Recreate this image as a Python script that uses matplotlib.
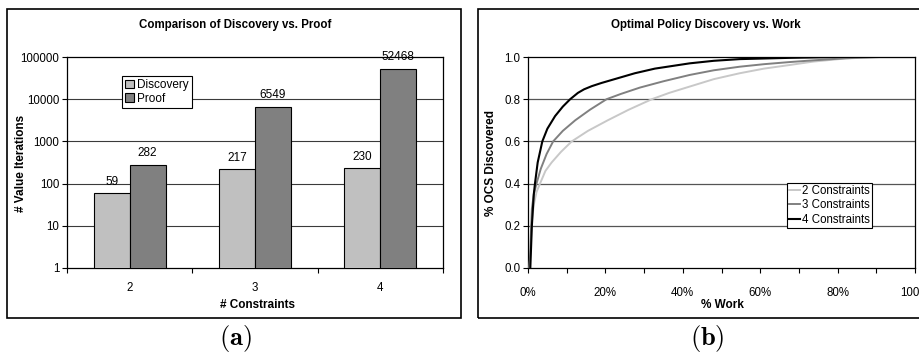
import matplotlib
matplotlib.use('Agg')
import matplotlib.pyplot as plt
from matplotlib.patches import Rectangle

plt.rcParams['font.family'] = ['Liberation Sans', 'DejaVu Sans']
plt.rcParams['font.size'] = 8.3
plt.rcParams['mathtext.fontset'] = 'cm'   # only used for the (a)/(b) captions

# panel (a): bars
constraints = ['2', '3', '4']
discovery = [59, 217, 230]
proof = [282, 6549, 52468]

# panel (b): curves (% work, fraction discovered)
work_2 = [0.4, 1.0, 1.5, 2.2, 3.1, 4.5, 6.1, 8.5, 11.3, 15.5, 20.6, 26, 32, 36.5, 41.8, 48, 54.7, 61, 67.6, 73.6, 82, 90.8, 100]
ocs_2 = [0, 0.22, 0.30, 0.36, 0.40, 0.46, 0.50, 0.55, 0.60, 0.65, 0.70, 0.75, 0.80, 0.83, 0.86, 0.895, 0.923, 0.945, 0.962, 0.978, 0.993, 1.0, 1.0]
work_3 = [0.4, 1.0, 1.5, 2.2, 3.3, 4.8, 6.5, 9, 12.2, 16, 20.3, 24, 28.9, 35, 41.8, 48, 54.7, 61, 67.6, 73.6, 82, 90.8, 100]
ocs_3 = [0, 0.28, 0.35, 0.40, 0.47, 0.54, 0.60, 0.65, 0.70, 0.75, 0.80, 0.825, 0.855, 0.885, 0.915, 0.937, 0.954, 0.966, 0.976, 0.984, 0.994, 1.0, 1.0]
work_4 = [0.6, 1.0, 1.5, 1.8, 2.5, 3.7, 5, 7, 9, 10.9, 12.9, 14.5, 16.5, 19, 23.3, 27.6, 32.8, 41.8, 48, 54.7, 67.6, 80, 100]
ocs_4 = [0, 0.2, 0.35, 0.40, 0.50, 0.60, 0.66, 0.72, 0.765, 0.80, 0.83, 0.847, 0.862, 0.877, 0.90, 0.923, 0.945, 0.97, 0.982, 0.99, 0.996, 1.0, 1.0]

W, H = 920, 356
fig = plt.figure(figsize=(W / 100, H / 100), dpi=100)

def px(x0, y0, x1, y1):   # pixel box -> figure fraction
    return [x0 / W, 1 - y1 / H, (x1 - x0) / W, (y1 - y0) / H]

# frames around the two panels
for box in (px(7, 9, 461, 318), px(478, 9, 930, 318)):
    fig.patches.append(Rectangle((box[0], box[1]), box[2], box[3], transform=fig.transFigure,
                                 fill=False, edgecolor='black', linewidth=1.2))

grid_c = '#3a3a3a'

# ---- (a) ----
ax1 = fig.add_axes(px(67, 57, 443, 268))
pos = list(range(len(constraints)))
bw = 0.287
b1 = ax1.bar([p - bw / 2 for p in pos], discovery, bw, color='#c0c0c0', edgecolor='black', linewidth=0.8, label='Discovery', zorder=3)
b2 = ax1.bar([p + bw / 2 for p in pos], proof, bw, color='#808080', edgecolor='black', linewidth=0.8, label='Proof', zorder=3)
ax1.bar_label(b1, padding=4, fontsize=8.5)
ax1.bar_label(b2, padding=4, fontsize=8.5)
ax1.set_yscale('log')
ax1.set_ylim(1, 100000)
ax1.set_xlim(-0.5, 2.5)
ax1.set_yticks([1, 10, 100, 1000, 10000, 100000])
ax1.set_yticklabels(['1', '10', '100', '1000', '10000', '100000'])
ax1.minorticks_off()
ax1.set_xticks([-0.5, 0.5, 1.5, 2.5])
ax1.set_xticklabels([])
ax1.set_xticks(pos, minor=True)
ax1.set_xticklabels(constraints, minor=True)
ax1.tick_params(axis='x', which='minor', length=0, pad=10)
ax1.tick_params(axis='x', which='major', direction='out', length=3.5, width=0.8)
ax1.tick_params(axis='y', direction='out', length=3.5, width=0.8, pad=2)
for y in [10, 100, 1000, 10000]:
    ax1.axhline(y, color=grid_c, linewidth=0.8, zorder=1)
for s in ax1.spines.values():
    s.set_linewidth(0.9)
leg1 = ax1.legend(loc='upper left', bbox_to_anchor=(0.146, 0.91), borderaxespad=0, fancybox=False,
                  edgecolor='black', framealpha=1, handlelength=0.75, handleheight=0.75,
                  handletextpad=0.3, borderpad=0.25, labelspacing=0.15, fontsize=8.5)
leg1.get_frame().set_linewidth(0.8)

fig.text(235 / W, 1 - 25 / H, 'Comparison of Discovery vs. Proof', ha='center', va='center', fontweight='bold', fontsize=8.3)
fig.text(258 / W, 1 - 305 / H, '# Constraints', ha='center', va='center', fontweight='bold', fontsize=8.5)
fig.text(21 / W, 1 - 163 / H, '# Value Iterations', ha='center', va='center', rotation=90, fontweight='bold', fontsize=8.5)
fig.text(235 / W, 1 - 338 / H, r'$\mathbf{(a)}$', ha='center', va='center', fontsize=19)

# ---- (b) ----
ax2 = fig.add_axes(px(528, 57, 915, 268))
for y in [0.2, 0.4, 0.6, 0.8]:
    ax2.axhline(y, color='#555555', linewidth=0.9, zorder=1)
ax2.plot(work_2, ocs_2, color='#c8c8c8', linewidth=1.4, label='2 Constraints', zorder=3)
ax2.plot(work_3, ocs_3, color='#808080', linewidth=1.4, label='3 Constraints', zorder=3)
ax2.plot(work_4, ocs_4, color='black', linewidth=1.5, label='4 Constraints', zorder=3)
ax2.set_xlim(0, 100)
ax2.set_ylim(0, 1)
ax2.set_xticks(range(0, 101, 10))
ax2.set_xticklabels([f'{v}%' if v % 20 == 0 else '' for v in range(0, 101, 10)])
ax2.set_yticks([0, 0.2, 0.4, 0.6, 0.8, 1.0])
ax2.set_yticklabels(['0.0', '0.2', '0.4', '0.6', '0.8', '1.0'])
ax2.tick_params(axis='x', direction='out', length=3.5, width=0.8, pad=10)
ax2.tick_params(axis='y', direction='out', length=3.5, width=0.8, pad=2)
for s in ax2.spines.values():
    s.set_linewidth(0.9)
    s.set_zorder(2)
leg2 = ax2.legend(loc='lower right', bbox_to_anchor=(0.889, 0.19), borderaxespad=0, fancybox=False,
                  edgecolor='black', framealpha=1, handlelength=0.9, handletextpad=0.2,
                  borderpad=0.2, labelspacing=0.2, fontsize=8.3)
leg2.get_frame().set_linewidth(0.8)

fig.text(706 / W, 1 - 25 / H, 'Optimal Policy Discovery vs. Work', ha='center', va='center', fontweight='bold', fontsize=8.3)
fig.text(722 / W, 1 - 305 / H, '% Work', ha='center', va='center', fontweight='bold', fontsize=8.5)
fig.text(491 / W, 1 - 163 / H, '% OCS Discovered', ha='center', va='center', rotation=90, fontweight='bold', fontsize=8.5)
fig.text(707 / W, 1 - 338 / H, r'$\mathbf{(b)}$', ha='center', va='center', fontsize=19)

fig.savefig('out.png', dpi=100)
